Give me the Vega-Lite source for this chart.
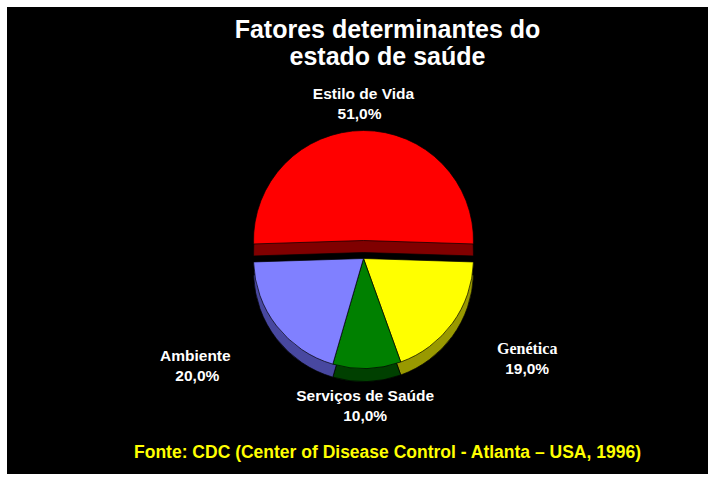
{
  "$schema": "https://vega.github.io/schema/vega-lite/v6.json",
  "background": "white",
  "padding": 7,
  "autosize": "none",
  "width": 701,
  "height": 467,
  "view": {"fill": "black", "stroke": null},
  "config": {
    "style": {"view": {"fill": "black", "stroke": null}},
    "locale": {"number": {"decimal": ",", "thousands": ".", "grouping": [3], "currency": ["", ""]}}
  },
  "title": {
    "text": ["Fatores determinantes do", "estado de saúde"],
    "subtitle": "Fonte: CDC (Center of Disease Control - Atlanta – USA, 1996)",
    "color": "white",
    "font": "Liberation Sans",
    "fontSize": 25,
    "fontWeight": "bold",
    "lineHeight": 27,
    "subtitleColor": "#FFFF00",
    "subtitleFont": "Liberation Sans",
    "subtitleFontSize": 17.5,
    "subtitleFontWeight": "bold",
    "subtitlePadding": 374,
    "anchor": "middle",
    "frame": "group",
    "offset": -454,
    "dx": 30
  },
  "data": {
    "values": [
      {"factor": "Estilo de Vida", "pct": 0.51, "order": 1},
      {"factor": "Genética", "pct": 0.19, "order": 2},
      {"factor": "Serviços de Saúde", "pct": 0.10, "order": 3},
      {"factor": "Ambiente", "pct": 0.20, "order": 4}
    ]
  },
  "encoding": {
    "theta": {"field": "pct", "type": "quantitative", "stack": true, "scale": {"domain": [0, 1], "range": [-1.6022, 4.681]}},
    "order": {"field": "order", "type": "quantitative"}
  },
  "layer": [
    {
      "mark": {"type": "arc", "outerRadius": 110, "xOffset": 6, "yOffset": 12, "stroke": "black", "strokeWidth": 0.7},
      "encoding": {
        "fill": {"field": "factor", "type": "nominal", "legend": null,
          "scale": {"domain": ["Estilo de Vida", "Genética", "Serviços de Saúde", "Ambiente"], "range": ["#800000", "#999900", "#004000", "#4848A0"]}},
        "opacity": {"condition": {"test": "datum.factor === 'Estilo de Vida'", "value": 1}, "value": 0}
      }
    },
    {
      "mark": {"type": "arc", "outerRadius": 110, "xOffset": 6, "yOffset": 0, "stroke": "black", "strokeWidth": 0.7},
      "encoding": {
        "color": {"field": "factor", "type": "nominal", "legend": null,
          "scale": {"domain": ["Estilo de Vida", "Genética", "Serviços de Saúde", "Ambiente"], "range": ["#FF0000", "#FFFF00", "#008000", "#8080FF"]}},
        "opacity": {"condition": {"test": "datum.factor === 'Estilo de Vida'", "value": 1}, "value": 0}
      }
    },
    {
      "mark": {"type": "arc", "outerRadius": 110, "xOffset": 6, "yOffset": 31, "stroke": "black", "strokeWidth": 0.7},
      "encoding": {
        "fill": {"field": "factor", "type": "nominal", "legend": null},
        "opacity": {"condition": {"test": "datum.factor === 'Estilo de Vida'", "value": 0}, "value": 1}
      }
    },
    {
      "mark": {"type": "arc", "outerRadius": 110, "xOffset": 6, "yOffset": 18, "stroke": "black", "strokeWidth": 0.7},
      "encoding": {
        "color": {"field": "factor", "type": "nominal", "legend": null},
        "opacity": {"condition": {"test": "datum.factor === 'Estilo de Vida'", "value": 0}, "value": 1}
      }
    },
    {
      "mark": {"type": "text", "radius": 137, "xOffset": 6, "yOffset": 0, "dy": -10, "color": "white", "font": "Liberation Sans", "fontSize": 15.5, "fontWeight": "bold"},
      "encoding": {
        "text": {"field": "factor", "type": "nominal"},
        "opacity": {"condition": {"test": "datum.factor === 'Estilo de Vida'", "value": 1}, "value": 0}
      }
    },
    {
      "mark": {"type": "text", "radius": 137, "xOffset": 2, "yOffset": 0, "dy": 10, "color": "white", "font": "Liberation Sans", "fontSize": 15.5, "fontWeight": "bold"},
      "encoding": {
        "text": {"field": "pct", "type": "quantitative", "format": ".1%"},
        "opacity": {"condition": {"test": "datum.factor === 'Estilo de Vida'", "value": 1}, "value": 0}
      }
    },
    {
      "mark": {"type": "text", "radius": 148, "xOffset": 3, "yOffset": 18, "dy": -10, "color": "white", "font": "Liberation Sans", "fontSize": 15.5, "fontWeight": "bold"},
      "encoding": {
        "text": {"field": "factor", "type": "nominal"},
        "opacity": {"condition": {"test": "datum.factor === 'Serviços de Saúde'", "value": 1}, "value": 0}
      }
    },
    {
      "mark": {"type": "text", "radius": 148, "xOffset": 3, "yOffset": 18, "dy": 10, "color": "white", "font": "Liberation Sans", "fontSize": 15.5, "fontWeight": "bold"},
      "encoding": {
        "text": {"field": "pct", "type": "quantitative", "format": ".1%"},
        "opacity": {"condition": {"test": "datum.factor === 'Serviços de Saúde'", "value": 1}, "value": 0}
      }
    },
    {
      "mark": {"type": "text", "radius": 185, "xOffset": -16, "yOffset": 12, "dy": -10, "color": "white", "font": "Liberation Sans", "fontSize": 15.5, "fontWeight": "bold"},
      "encoding": {
        "text": {"field": "factor", "type": "nominal"},
        "opacity": {"condition": {"test": "datum.factor === 'Ambiente'", "value": 1}, "value": 0}
      }
    },
    {
      "mark": {"type": "text", "radius": 185, "xOffset": -14, "yOffset": 12, "dy": 10, "color": "white", "font": "Liberation Sans", "fontSize": 15.5, "fontWeight": "bold"},
      "encoding": {
        "text": {"field": "pct", "type": "quantitative", "format": ".1%"},
        "opacity": {"condition": {"test": "datum.factor === 'Ambiente'", "value": 1}, "value": 0}
      }
    },
    {
      "mark": {"type": "text", "radius": 185, "xOffset": 20, "yOffset": 10, "dy": -10, "color": "white", "font": "Liberation Serif", "fontSize": 16, "fontWeight": "bold"},
      "encoding": {
        "text": {"field": "factor", "type": "nominal"},
        "opacity": {"condition": {"test": "datum.factor === 'Genética'", "value": 1}, "value": 0}
      }
    },
    {
      "mark": {"type": "text", "radius": 185, "xOffset": 20, "yOffset": 10, "dy": 10, "color": "white", "font": "Liberation Sans", "fontSize": 15.5, "fontWeight": "bold"},
      "encoding": {
        "text": {"field": "pct", "type": "quantitative", "format": ".1%"},
        "opacity": {"condition": {"test": "datum.factor === 'Genética'", "value": 1}, "value": 0}
      }
    }
  ]
}
